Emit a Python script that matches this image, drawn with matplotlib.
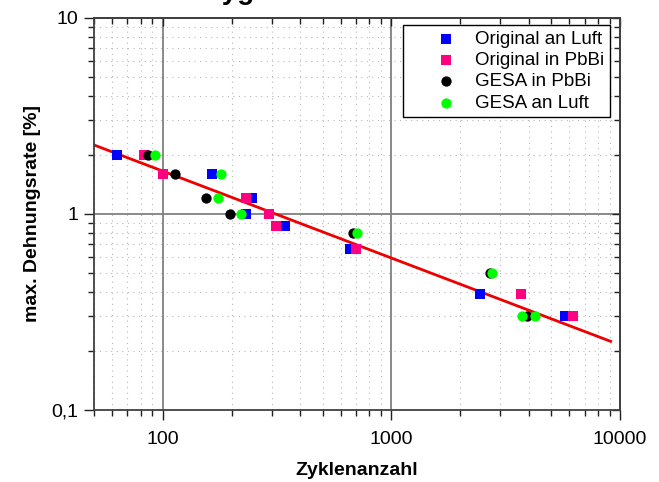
import numpy as np
import matplotlib
matplotlib.use("Agg")
import matplotlib.pyplot as plt
from matplotlib.ticker import FixedLocator, FuncFormatter, NullFormatter

plt.rcParams['font.family'] = ['Liberation Sans', 'DejaVu Sans']

# data
orig_luft_x = [63, 164, 246, 230, 342, 656, 2432, 5757]
orig_luft_y = [2.0, 1.6, 1.2, 1.0, 0.87, 0.66, 0.39, 0.30]

orig_pbbi_x = [83, 100, 232, 291, 313, 702, 3682, 6254]
orig_pbbi_y = [2.0, 1.6, 1.2, 1.0, 0.87, 0.66, 0.39, 0.30]

gesa_pbbi_x = [86, 113, 154, 197, 678, 2698, 3914]
gesa_pbbi_y = [2.0, 1.6, 1.2, 1.0, 0.80, 0.50, 0.30]

gesa_luft_x = [92, 180, 174, 220, 705, 2754, 3742, 4243]
gesa_luft_y = [2.0, 1.6, 1.2, 1.0, 0.80, 0.50, 0.30, 0.30]

fit_x = [50, 9100]
fit_y = [2.25, 0.224]

x_major = [100, 1000, 10000]
y_major = [0.1, 1, 10]

fig = plt.figure(figsize=(6.59, 4.82), dpi=100)
ax = fig.add_axes([94/659, 1 - 410/482, (620 - 94)/659, (410 - 18)/482])

ax.set_xscale('log')
ax.set_yscale('log')
ax.set_xlim(50, 10000)
ax.set_ylim(0.1, 10)

# grid
minor_x = [m * 10**d for d in (1, 2, 3) for m in range(2, 10)]
minor_x = [v for v in minor_x if 50 <= v <= 10000]
minor_y = [m * 10**d for d in (-1, 0) for m in range(2, 10)]
for v in minor_x:
    ax.axvline(v, color='#b8b8b8', lw=0.8, ls=(0, (1, 4)), zorder=0)
for v in minor_y:
    ax.axhline(v, color='#b8b8b8', lw=0.8, ls=(0, (1, 4)), zorder=0)
for v in (100, 1000):
    ax.axvline(v, color='#808080', lw=1.3, zorder=0)
ax.axhline(1, color='#808080', lw=1.3, zorder=0)

ax.plot(fit_x, fit_y, color='#ee0000', lw=2, zorder=2)

ms = 55
ax.scatter(orig_luft_x, orig_luft_y, s=ms, marker='s', color='#0000ff', lw=0, label='Original an Luft', zorder=3)
ax.scatter(orig_pbbi_x, orig_pbbi_y, s=ms, marker='s', color='#ff0080', lw=0, label='Original in PbBi', zorder=3)
ax.scatter(gesa_pbbi_x, gesa_pbbi_y, s=ms, marker='o', color='#000000', lw=0, label='GESA in PbBi', zorder=3)
ax.scatter(gesa_luft_x, gesa_luft_y, s=ms, marker='o', color='#00ff00', lw=0, label='GESA an Luft', zorder=3)

# ticks: outward on bottom/left
ax.xaxis.set_major_locator(FixedLocator(x_major))
ax.xaxis.set_minor_locator(FixedLocator(minor_x))
ax.yaxis.set_major_locator(FixedLocator(y_major))
ax.yaxis.set_minor_locator(FixedLocator(minor_y))
ax.xaxis.set_major_formatter(FuncFormatter(lambda v, p: '%d' % round(v)))
ax.yaxis.set_major_formatter(FuncFormatter(lambda v, p: ('%g' % v).replace('.', ',')))
ax.xaxis.set_minor_formatter(NullFormatter())
ax.yaxis.set_minor_formatter(NullFormatter())
ax.tick_params(which='both', labelsize=14, color='#202020', direction='out')
ax.tick_params(which='major', length=7, width=1)
ax.tick_params(which='minor', length=4, width=1)
ax.tick_params(axis='x', which='major', pad=8)
ax.tick_params(axis='y', which='major', pad=4)

# ticks: inward on top/right
top = ax.secondary_xaxis('top')
top.xaxis.set_major_locator(FixedLocator(x_major))
top.xaxis.set_minor_locator(FixedLocator(minor_x))
top.xaxis.set_major_formatter(NullFormatter())
top.xaxis.set_minor_formatter(NullFormatter())
right = ax.secondary_yaxis('right')
right.yaxis.set_major_locator(FixedLocator(y_major))
right.yaxis.set_minor_locator(FixedLocator(minor_y))
right.yaxis.set_major_formatter(NullFormatter())
right.yaxis.set_minor_formatter(NullFormatter())
for sec in (top, right):
    sec.tick_params(which='both', direction='in', color='#202020', width=1)
    sec.tick_params(which='major', length=6)
    sec.tick_params(which='minor', length=4)
    for s in sec.spines.values():
        s.set_color('#404040')
        s.set_linewidth(1.3)

for s in ax.spines.values():
    s.set_color('#404040')
    s.set_linewidth(1.3)

ax.set_xlabel('Zyklenanzahl', fontsize=14, fontweight='bold', labelpad=10)
ax.set_ylabel('max. Dehnungsrate [%]', fontsize=14, fontweight='bold', labelpad=8)

leg = ax.legend(loc='upper right', bbox_to_anchor=(0.981, 0.982), borderaxespad=0,
                fontsize=13.5, frameon=True, fancybox=False, edgecolor='black',
                framealpha=1, labelspacing=0.22, handlelength=4.0,
                handletextpad=-0.45, borderpad=0.3, scatterpoints=1)
leg.get_frame().set_linewidth(1)
leg.set_zorder(5)

fig.text(186/659, 1 + 1/482, 'Oxygen', fontsize=20, fontweight='bold', va='baseline', ha='left')

fig.savefig('out.png', dpi=100)
